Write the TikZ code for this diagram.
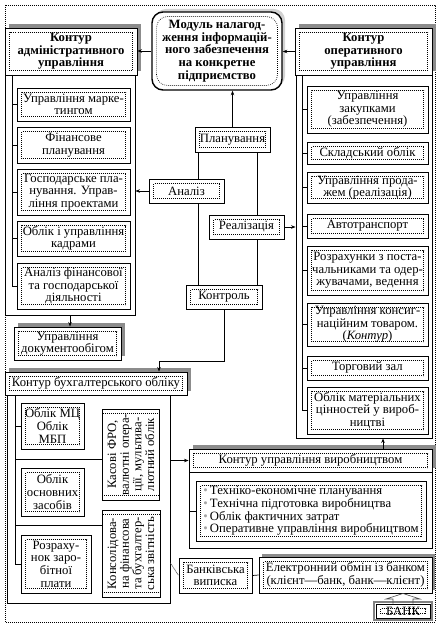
\documentclass[tikz,border=0pt]{standalone}
\usepackage{fontspec}
\setmainfont{Liberation Serif}
\usetikzlibrary{arrows.meta,shadows}
\tikzset{
 dotl/.style={line width=0.7pt,dash pattern=on 0.7pt off 1.3pt},
 dbox/.style={draw,line width=0.9pt,fill=white,inner sep=0.5pt,align=center,
   font=\fontsize{12.7}{12.6}\selectfont,
   path picture={\draw[dotl] ([shift={(4.5pt,4.5pt)}]path picture bounding box.south west) rectangle ([shift={(-4.5pt,-4.5pt)}]path picture bounding box.north east);}},
 hbold/.style={font=\fontsize{12.7}{12.6}\selectfont\bfseries},
 plainbox/.style={draw,line width=0.9pt,inner sep=0pt},
 arr/.style={line width=0.7pt,-{Stealth[length=4.5pt,width=3.5pt]}},
 conn/.style={line width=0.7pt},
 shd/.style={drop shadow={shadow xshift=4pt,shadow yshift=4pt,fill=gray!90,opacity=1}},
 glow/.style={drop shadow={shadow xshift=3pt,shadow yshift=3pt,fill=gray!35,opacity=1}},
}
\newcommand\myBox[7][]{\node[dbox,minimum width={(#5-#3)*1pt},minimum height={(#6-#4)*1pt},#1] (#2) at ({(#3+#5)/2},{(#4+#6)/2}) {#7};}
\newcommand\myFrame[6][]{\node[plainbox,minimum width={(#5-#3)*1pt},minimum height={(#6-#4)*1pt},#1] (#2) at ({(#3+#5)/2},{(#4+#6)/2}) {};}
\begin{document}
\begin{tikzpicture}[x=1pt,y=-1pt]
\useasboundingbox (0,0) rectangle (440,628);
\draw[dotl] (5,5) rectangle (435,622);

% module
\myBox[glow,rounded corners=11pt,line width=1.4pt,hbold]{mod}{152}{12}{282}{90}{Модуль налагод-\\ження інформацій-\\ного забезпечення\\на конкретне\\підприємство}

% left container
\myFrame{lc}{5}{75}{135}{315}
\myBox[shd,hbold]{ah}{5}{28}{137}{75}{Контур\\адміністративного\\управління}
\myBox{L1}{17}{88}{130}{121}{Управління марке-\\тингом}
\myBox{L2}{17}{127}{130}{163}{Фінансове\\планування}
\myBox{L3}{17}{169}{130}{215}{Господарське пла-\\нування. Управ-\\ління проектами}
\myBox{L4}{17}{221}{130}{256}{Облік і управління\\кадрами}
\myBox{L5}{17}{263}{130}{309}{Аналіз фінансової\\та господарської\\діяльності}
\coordinate (lv) at (12,75);
\draw[conn] (lv) -- (lv |- L5.west);
\foreach \n in {L1,L2,L3,L4,L5} \draw[conn] (\n.west) -- (\n.west -| lv);

% right container
\myFrame{rc}{296}{75}{432}{438}
\myBox[shd,hbold]{oh}{295}{28}{432}{75}{Контур\\оперативного\\управління}
\myBox{R1}{307}{86}{428}{133}{Управління\\закупками\\(забезпечення)}
\myBox{R2}{307}{142}{428}{164}{Складський облік}
\myBox{R3}{307}{172}{428}{203}{Управління прода-\\жем (реалізація)}
\myBox{R4}{307}{214}{428}{238}{Автотранспорт}
\myBox{R5}{307}{246}{428}{295}{Розрахунки з поста-\\чальниками та одер-\\жувачами, ведення}
\myBox{R6}{307}{303}{428}{346}{Управління консиг-\\наційним товаром.\\(\textit{Контур})}
\myBox{R7}{307}{356}{428}{380}{Торговий зал}
\myBox{R8}{307}{387}{428}{434}{Облік матеріальних\\цінностей у вироб-\\ництві}
\coordinate (rv) at (302,75);
\draw[conn] (rv) -- (rv |- R8.west);
\foreach \n in {R1,R2,R3,R4,R5,R6,R7,R8} \draw[conn] (\n.west) -- (\n.west -| rv);

% centre
\myBox{plan}{195}{127}{270}{152}{Планування}
\myBox{an}{149}{179}{224}{203}{Аналіз}
\myBox{re}{209}{215}{284}{239}{Реалізація}
\myBox{ko}{186}{285}{262}{309}{Контроль}
\coordinate (vL) at (198,0);
\coordinate (vR) at (257,0);
\draw[conn] (plan.south -| vL) -- (an.north -| vL);
\draw[conn] (an.south -| vL) -- (ko.north -| vL);
\draw[conn] (plan.south -| vR) -- (re.north -| vR);
\draw[conn] (re.south -| vR) -- (ko.north -| vR);
\draw[arr] (plan.north) -- (plan.north |- mod.south);
\draw[arr] (mod.west) -- (mod.west -| ah.east);
\draw[arr] (oh.west) -- (oh.west -| mod.east);
\draw[arr] (an.west) -- (an.west -| lc.east);
\draw[arr] (re.east) -- (re.east -| rc.west);

% documents
\myBox[shd]{doc}{14}{327}{121}{360}{Управління\\документообігом}
\draw[arr] (lc.south) -- (lc.south |- doc.north);

% accounting
\myFrame{bc}{7}{395}{170}{603}
\myBox[shd]{bh}{5}{372}{187}{395}{Контур бухгалтерського обліку}
\coordinate (kk) at (159,361);
\draw[arr] (ko.south) -- (ko.south |- kk) -- (kk) -- (kk |- bh.north);
\myBox{A1}{21}{403}{84}{449}{Облік МЦ\\Облік\\МБП}
\myBox{A2}{21}{468}{84}{516}{Облік\\основних\\засобів}
\myBox{A3}{21}{535}{91}{593}{Розраху-\\нок заро-\\бітної\\плати}
\node[dbox,rotate=90,minimum width=91pt,minimum height=57pt] (kas) at (131,454.5) {Касові ФРО,\\валютні опера-\\ції, мультива-\\лютний облік};
\node[dbox,rotate=90,minimum width=87pt,minimum height=58pt] (cons) at (131,553.5) {Консолідова-\\на фінансова\\та бухгалтер-\\ська звітність};
\coordinate (av) at (15,395);
\draw[conn] (av) -- (av |- A3.west);
\draw[conn] (A1.west) -- (A1.west -| av);
\draw[conn] (A3.west) -- (A3.west -| av);
\draw[conn] (av |- 0,459) -- (kas.north |- 0,459);
\draw[conn] (av |- 0,525) -- (cons.north |- 0,525);

% production
\myFrame{pc}{189}{472}{432}{548}
\myBox[shd]{ph}{189}{449}{432}{472}{Контур управління виробництвом}
\node[dbox,align=left,minimum width=230pt,minimum height=60pt] (pi) at (311,511) {{\color{gray!70}\textbullet}\,Техніко-економічне планування\\{\color{gray!70}\textbullet}\,Технічна підготовка виробництва\\{\color{gray!70}\textbullet}\,Облік фактичних затрат\\{\color{gray!70}\textbullet}\,Оперативне управління виробництвом};
\draw[conn] (pi.west) -- (pi.west -| pc.west);
\draw[arr] (ph.west -| bc.east) -- (ph.west);
\coordinate (pu) at (383,0);
\draw[arr] (ph.north -| pu) -- (rc.south -| pu);

% bank
\myBox{bv}{179}{558}{252}{593}{Банківська\\виписка}
\myBox[drop shadow={shadow xshift=3pt,shadow yshift=3pt,fill=gray!90,opacity=1}]{el}{259}{557}{432}{593}{Електронний обмін із банком\\(клієнт—банк, банк—клієнт)}
\draw[gray!70!black,line width=0.6pt,dash pattern=on 1pt off 0.5pt] (bc.east |- 0,563) -- (bv.west);
\draw[conn] (bv.east) -- (el.west);
\myBox{bk}{376}{604}{430}{618}{БАНК}
\draw[gray,line width=1.4pt] ([shift={(-1.5pt,-1.5pt)}]bk.south west) rectangle ([shift={(1.5pt,1.5pt)}]bk.north east);
\draw[line width=0.6pt,gray!60!black] (bk.north -| 393,0) -- (393,599) -- (386,599) -- (403,593.5) -- (420,599) -- (413,599) -- (bk.north -| 413,0);
\end{tikzpicture}
\end{document}
